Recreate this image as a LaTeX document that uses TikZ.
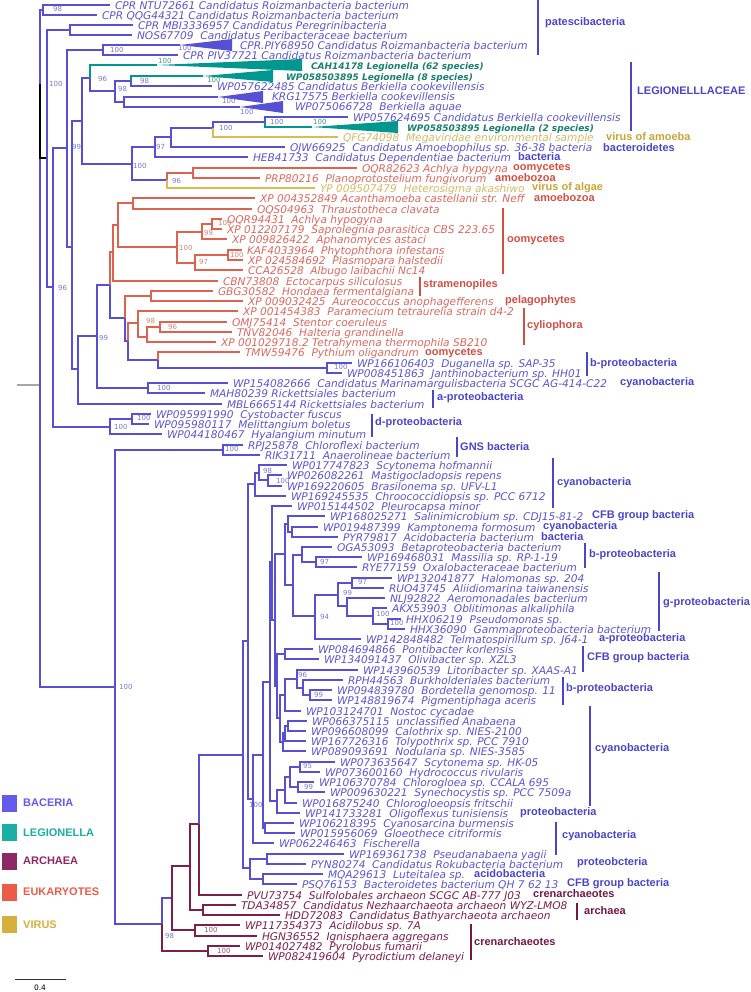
\documentclass[tikz,border=0pt]{standalone}
\usepackage{fontspec}
\setmainfont{DejaVu Sans}
\newfontfamily\labfont{Liberation Sans}
\usetikzlibrary{calc}
\definecolor{cB}{RGB}{88,80,210}
\definecolor{cBt}{RGB}{92,86,205}
\definecolor{cBs}{RGB}{120,120,205}
\definecolor{cR}{RGB}{222,98,78}
\definecolor{cRt}{RGB}{218,105,95}
\definecolor{cRs}{RGB}{215,130,120}
\definecolor{cG}{RGB}{222,186,84}
\definecolor{cGt}{RGB}{215,185,100}
\definecolor{cT}{RGB}{0,152,142}
\definecolor{cTt}{RGB}{25,128,110}
\definecolor{cTs}{RGB}{70,150,140}
\definecolor{cM}{RGB}{125,30,78}
\definecolor{cMs}{RGB}{150,85,115}
\definecolor{gB}{RGB}{75,70,200}
\definecolor{gR}{RGB}{210,80,65}
\definecolor{gG}{RGB}{200,165,55}
\definecolor{gM}{RGB}{115,25,70}
\definecolor{qB}{RGB}{100,90,235}
\definecolor{qT}{RGB}{25,175,165}
\definecolor{qM}{RGB}{140,40,100}
\definecolor{qR}{RGB}{235,92,72}
\definecolor{qG}{RGB}{215,175,60}
\tikzset{
  br/.style={line width=1.3pt},
  lf/.style={anchor=base west, inner sep=0pt, outer sep=0pt, font=\fontsize{10.6}{12}\selectfont\itshape},
  lfb/.style={anchor=base west, inner sep=0pt, outer sep=0pt, font=\fontsize{9}{11}\selectfont\bfseries\itshape},
  bsl/.style={anchor=west, inner sep=0pt, font=\fontsize{7}{8}\selectfont},
  grl/.style={anchor=west, inner sep=0pt, font=\labfont\bfseries\fontsize{11}{13}\selectfont},
  brk/.style={line width=1.3pt},
}
\newcounter{bsc}
\newcounter{grc}
\newcommand\TLf[5]{\node[lf,text=#5] (#1) at (#2,{#3+4.1}) {#4};}
\newcommand\TLb[5]{\node[lfb,text=#5] (#1) at (#2,{#3+4.1}) {#4};}
\newcommand\TEd[3]{\draw[br,draw=#3] (#1) |- ([xshift=-5pt,yshift=4.1pt]#2.base west);}
\newcommand\TEi[3]{\draw[br,draw=#3] (#1) |- (#2);}
\newcommand\TBs[4]{\stepcounter{bsc}\node[bsl,text=#4] (bs\thebsc) at (#2,#3) {#1};}
\newcommand\TBr[4]{\draw[brk,draw=#4] (#1,#2) -- (#1,#3);}
\newcommand\TGl[4]{\stepcounter{grc}\node[grl,text=#4] (gl\thegrc) at (#1,#2) {#3};}
\begin{document}
\begin{tikzpicture}[x=1pt,y=-1pt]
\useasboundingbox (0,0) rectangle (750,992);
\fill[white] (0,0) rectangle (750,992);
% ---------- internal nodes ----------
\coordinate (R) at (40,385); \coordinate (rs) at (17,385);
\coordinate (A) at (40,84); \coordinate (N1) at (43,10); \coordinate (B) at (47,158);
\coordinate (N2) at (70,30); \coordinate (C) at (53,287); \coordinate (D) at (67,148);
\coordinate (N5) at (103,50); \coordinate (E) at (72,247); \coordinate (L0) at (82,121);
\coordinate (NL) at (90,78); \coordinate (T2a) at (157,65); \coordinate (K) at (115,91);
\coordinate (K1) at (131,81); \coordinate (T3a) at (203,76); \coordinate (K2) at (124,102);
\coordinate (T4a) at (218,97); \coordinate (T5a) at (240,107); \coordinate (T1a) at (180,45);
\coordinate (M0) at (132,164); \coordinate (M1) at (155,147); \coordinate (M2) at (171,137);
\coordinate (M3) at (213,128); \coordinate (M4) at (265,122); \coordinate (T6a) at (312,127);
\coordinate (M5) at (167,180); \coordinate (M6) at (193,173);
\coordinate (F) at (78,369); \coordinate (G) at (97,336); \coordinate (H) at (110,285);
\coordinate (P8) at (113,252); \coordinate (P2) at (118,225); \coordinate (P1) at (133,203);
\coordinate (P3) at (177,247); \coordinate (P4) at (202,232); \coordinate (P6) at (212,224);
\coordinate (P5) at (195,263); \coordinate (P7) at (228,255); \coordinate (P13) at (125,318);
\coordinate (P9) at (151,296); \coordinate (P14) at (128,341); \coordinate (P12) at (138,323);
\coordinate (P11) at (147,337); \coordinate (P10) at (160,327); \coordinate (Q1) at (158,360);
\coordinate (Q2) at (327,368); \coordinate (Q3) at (148,388);
\coordinate (DP) at (110,427); \coordinate (DP2) at (132,419);
\coordinate (Z) at (115,687); \coordinate (GNS) at (223,450);
\coordinate (Y1) at (162,924); \coordinate (Y2) at (172,898); \coordinate (Y3) at (190,866);
\coordinate (Y4) at (199,824); \coordinate (Y5) at (203,910); \coordinate (Y6) at (195,930);
\coordinate (Y7) at (208,951);
\coordinate (W0) at (243,755); \coordinate (W1) at (248,641); \coordinate (W2) at (250,868);
\coordinate (W2a) at (267,859); \coordinate (W2b) at (263,879);
\coordinate (V3) at (255,484); \coordinate (V2) at (259,473); \coordinate (V1) at (268,480);
\coordinate (Wb) at (253,799); \coordinate (Wc) at (263,755); \coordinate (Xa) at (270,682);
\coordinate (X1) at (272,562); \coordinate (X2) at (275,620); \coordinate (X3) at (277,686);
\coordinate (R2) at (285,554); \coordinate (R1) at (293,585); \coordinate (S1) at (288,524);
\coordinate (S2) at (292,532); \coordinate (S3) at (302,555); \coordinate (S4) at (316,562);
\coordinate (S5) at (315,616); \coordinate (S6) at (338,595); \coordinate (S7) at (352,583);
\coordinate (S8) at (347,606); \coordinate (S9) at (373,616); \coordinate (S10) at (388,624);
\coordinate (CF) at (285,654); \coordinate (U9) at (280,718); \coordinate (U8) at (285,695);
\coordinate (U3) at (297,679); \coordinate (U2) at (303,688); \coordinate (U1) at (310,695);
\coordinate (U6) at (283,742); \coordinate (U5) at (285,733); \coordinate (U4) at (288,726);
\coordinate (Te) at (277,801); \coordinate (Td) at (285,790); \coordinate (Tc) at (290,777);
\coordinate (Ta) at (300,767); \coordinate (Tb) at (298,787); \coordinate (Tf) at (265,828);
% ---------- leaves ----------
\TLf{l1}{115}{5}{CPR NTU72661 Candidatus Roizmanbacteria bacterium}{cBt}
\TLf{l2}{102}{15}{CPR QQG44321 Candidatus Roizmanbacteria bacterium}{cBt}
\TLf{l3}{138}{25}{CPR MBI3336957 Candidatus Peregrinibacteria}{cBt}
\TLf{l4}{137}{35}{NOS67709~~Candidatus Peribacteraceae bacterium}{cBt}
\TLf{l5}{240}{45}{CPR.PIY68950 Candidatus Roizmanbacteria bacterium}{cBt}
\TLf{l6}{183}{55}{CPR PIV37721 Candidatus Roizmanbacteria bacterium}{cBt}
\TLb{l7}{311}{65}{CAH14178 Legionella (62 species)}{cTt}
\TLb{l8}{286}{76}{WP058503895 Legionella (8 species)}{cTt}
\TLf{l9}{217}{86}{WP057622485 Candidatus Berkiella cookevillensis}{cBt}
\TLf{l10}{272}{96}{KRG17575 Berkiella cookevillensis}{cBt}
\TLf{l11}{295}{106}{WP075066728~~Berkiella aquae}{cBt}
\TLf{l12}{353}{117}{WP057624695 Candidatus Berkiella cookevillensis}{cBt}
\TLb{l13}{407}{127}{WP058503895 Legionella (2 species)}{cTt}
\TLf{l14}{343}{137}{QFG74098~~Megaviridae environmental sample}{cGt}
\TLf{l15}{290}{147}{OJW66925~~Candidatus Amoebophilus sp. 36-38 bacteria}{cBt}
\TLf{l16}{253}{157}{HEB41733~~Candidatus Dependentiae bacterium}{cBt}
\TLf{l17}{362}{168}{OQR82623 Achlya hypgyna}{cRt}
\TLf{l18}{265}{178}{PRP80216~~Planoprotostelium fungivorum}{cRt}
\TLf{l19}{320}{188}{YP 009507479~~Heterosigma akashiwo}{cGt}
\TLf{l20}{260}{198}{XP 004352849 Acanthamoeba castellanii str. Neff}{cRt}
\TLf{l21}{257}{209}{OQS04963~~Thraustotheca clavata}{cRt}
\TLf{l22}{227}{219}{OQR94431~~Achlya hypogyna}{cRt}
\TLf{l23}{227}{229}{XP 012207179~~Saprolegnia parasitica CBS 223.65}{cRt}
\TLf{l24}{232}{239}{XP 009826422~~Aphanomyces astaci}{cRt}
\TLf{l25}{247}{250}{KAF4033964~~Phytophthora infestans}{cRt}
\TLf{l26}{248}{260}{XP 024584692~~Plasmopara halstedii}{cRt}
\TLf{l27}{248}{270}{CCA26528~~Albugo laibachii Nc14}{cRt}
\TLf{l28}{223}{281}{CBN73808~~Ectocarpus siliculosus}{cRt}
\TLf{l29}{218}{291}{GBG30582~~Hondaea fermentalgiana}{cRt}
\TLf{l30}{248}{301}{XP 009032425~~Aureococcus anophagefferens}{cRt}
\TLf{l31}{243}{311}{XP 001454383~~Paramecium tetraurelia strain d4-2}{cRt}
\TLf{l32}{232}{322}{OMJ75414~~Stentor coeruleus}{cRt}
\TLf{l33}{237}{332}{TNV82046~~Halteria grandinella}{cRt}
\TLf{l34}{221}{342}{XP 001029718.2 Tetrahymena thermophila SB210}{cRt}
\TLf{l35}{245}{352}{TMW59476~~Pythium oligandrum}{cRt}
\TLf{l36}{357}{363}{WP166106403~~Duganella sp. SAP-35}{cBt}
\TLf{l37}{347}{373}{WP008451863~~Janthinobacterium sp. HH01}{cBt}
\TLf{l38}{233}{383}{WP154082666~~Candidatus Marinamargulisbacteria SCGC AG-414-C22}{cBt}
\TLf{l39}{210}{393}{MAH80239 Rickettsiales bacterium}{cBt}
\TLf{l40}{227}{404}{MBL6665144 Rickettsiales bacterium}{cBt}
\TLf{l41}{156}{414}{WP095991990~~Cystobacter fuscus}{cBt}
\TLf{l42}{154}{424}{WP095980117~~Melittangium boletus}{cBt}
\TLf{l43}{167}{434}{WP044180467~~Hyalangium minutum}{cBt}
\TLf{l44}{248}{445}{RPJ25878~~Chloroflexi bacterium}{cBt}
\TLf{l45}{265}{455}{RIK31711~~Anaerolineae bacterium}{cBt}
\TLf{l46}{292}{465}{WP017747823~~Scytonema hofmannii}{cBt}
\TLf{l47}{287}{475}{WP026082261~~Mastigocladopsis repens}{cBt}
\TLf{l48}{287}{486}{WP169220605~~Brasilonema sp. UFV-L1}{cBt}
\TLf{l49}{291}{496}{WP169245535~~Chroococcidiopsis sp. PCC 6712}{cBt}
\TLf{l50}{297}{506}{WP015144502~~Pleurocapsa minor}{cBt}
\TLf{l51}{330}{516}{WP168025271~~Salinimicrobium sp. CDJ15-81-2}{cBt}
\TLf{l52}{323}{527}{WP019487399~~Kamptonema formosum}{cBt}
\TLf{l53}{343}{537}{PYR79817~~Acidobacteria bacterium}{cBt}
\TLf{l54}{337}{547}{OGA53093~~Betaproteobacteria bacterium}{cBt}
\TLf{l55}{367}{557}{WP169468031~~Massilia sp. RP-1-19}{cBt}
\TLf{l56}{362}{567}{RYE77159~~Oxalobacteraceae bacterium}{cBt}
\TLf{l57}{397}{578}{WP132041877~~Halomonas sp. 204}{cBt}
\TLf{l58}{389}{588}{RUO43745~~Aliidiomarina taiwanensis}{cBt}
\TLf{l59}{390}{598}{NLJ92822~~Aeromonadales bacterium}{cBt}
\TLf{l60}{392}{608}{AKX53903~~Oblitimonas alkaliphila}{cBt}
\TLf{l61}{406}{619}{HHX06219~~Pseudomonas sp.}{cBt}
\TLf{l62}{410}{629}{HHX36090~~Gammaproteobacteria bacterium}{cBt}
\TLf{l63}{366}{639}{WP142848482~~Telmatospirillum sp. J64-1}{cBt}
\TLf{l64}{318}{649}{WP084694866~~Pontibacter korlensis}{cBt}
\TLf{l65}{324}{659}{WP134091437~~Olivibacter sp. XZL3}{cBt}
\TLf{l66}{363}{670}{WP143960539~~Litoribacter sp. XAAS-A1}{cBt}
\TLf{l67}{348}{680}{RPH44563~~Burkholderiales bacterium}{cBt}
\TLf{l68}{337}{690}{WP094839780~~Bordetella genomosp. 11}{cBt}
\TLf{l69}{337}{700}{WP148819674~~Pigmentiphaga aceris}{cBt}
\TLf{l70}{306}{711}{WP103124701~~Nostoc cycadae}{cBt}
\TLf{l71}{312}{721}{WP066375115~~unclassified Anabaena}{cBt}
\TLf{l72}{311}{731}{WP096608099~~Calothrix sp. NIES-2100}{cBt}
\TLf{l73}{311}{741}{WP167726316~~Tolypothrix sp. PCC 7910}{cBt}
\TLf{l74}{311}{751}{WP089093691~~Nodularia sp. NIES-3585}{cBt}
\TLf{l75}{340}{762}{WP073635647~~Scytonema sp. HK-05}{cBt}
\TLf{l76}{325}{772}{WP073600160~~Hydrococcus rivularis}{cBt}
\TLf{l77}{319}{782}{WP106370784~~Chlorogloea sp. CCALA 695}{cBt}
\TLf{l78}{330}{792}{WP009630221~~Synechocystis sp. PCC 7509a}{cBt}
\TLf{l79}{302}{803}{WP016875240~~Chlorogloeopsis fritschii}{cBt}
\TLf{l80}{305}{813}{WP141733281~~Oligoflexus tunisiensis}{cBt}
\TLf{l81}{299}{823}{WP106218395~~Cyanosarcina burmensis}{cBt}
\TLf{l82}{300}{833}{WP015956069~~Gloeothece citriformis}{cBt}
\TLf{l83}{279}{843}{WP062246463~~Fischerella}{cBt}
\TLf{l84}{349}{854}{WP169361738~~Pseudanabaena yagii}{cBt}
\TLf{l85}{311}{864}{PYN80274~~Candidatus Rokubacteria bacterium}{cBt}
\TLf{l86}{328}{874}{MQA29613~~Luteitalea sp.}{cBt}
\TLf{l87}{302}{884}{PSQ76153~~Bacteroidetes bacterium QH 7 62 13}{cBt}
\TLf{l88}{247}{895}{PVU73754~~Sulfolobales archaeon SCGC AB-777 J03}{cM}
\TLf{l89}{241}{905}{TDA34857~~Candidatus Nezhaarchaeota archaeon WYZ-LMO8}{cM}
\TLf{l90}{285}{915}{HDD72083~~Candidatus Bathyarchaeota archaeon}{cM}
\TLf{l91}{245}{925}{WP117354373~~Acidilobus sp. 7A}{cM}
\TLf{l92}{262}{936}{HGN36552~~Ignisphaera aggregans}{cM}
\TLf{l93}{245}{946}{WP014027482~~Pyrolobus fumarii}{cM}
\TLf{l94}{268}{956}{WP082419604~~Pyrodictium delaneyi}{cM}
% ---------- edges ----------
\draw[br,draw=gray!70] (rs) -- (R);
\TEi{R}{A}{cB} \TEi{R}{Z}{cB}
\TEi{A}{N1}{cB} \TEi{A}{B}{black}
\TEd{N1}{l1}{cB} \TEd{N1}{l2}{cB}
\TEi{B}{N2}{cB} \TEi{B}{C}{cB}
\TEd{N2}{l3}{cB} \TEd{N2}{l4}{cB}
\TEi{C}{D}{cB} \TEi{C}{DP}{cB}
\TEi{D}{N5}{cB} \TEi{D}{E}{cB}
\TEi{N5}{T1a}{cB} \TEd{N5}{l6}{cB}
\TEi{E}{L0}{cB} \TEi{E}{F}{cB}
\TEi{L0}{NL}{cB} \TEi{L0}{M0}{cB}
\TEi{NL}{T2a}{cT} \TEi{NL}{K}{cB}
\TEi{K}{K1}{cB} \TEi{K}{K2}{cB}
\TEi{K1}{T3a}{cT} \TEd{K1}{l9}{cB}
\TEi{K2}{T4a}{cB} \TEi{K2}{T5a}{cB}
\TEi{M0}{M1}{cB} \TEi{M0}{M5}{cB}
\TEi{M1}{M2}{cB} \TEd{M1}{l16}{cB}
\TEi{M2}{M3}{cB} \TEd{M2}{l15}{cB}
\TEi{M3}{M4}{cB} \TEd{M3}{l14}{cG}
\TEd{M4}{l12}{cB} \TEi{M4}{T6a}{cT}
\TEi{M5}{M6}{cR} \TEd{M5}{l19}{cG}
\TEd{M6}{l17}{cR} \TEd{M6}{l18}{cR}
\TEi{F}{G}{cB} \TEd{F}{l40}{cB}
\TEi{G}{H}{cB} \TEi{G}{Q3}{cB}
\TEi{H}{P8}{cR} \TEi{H}{P13}{cB}
\TEi{P8}{P2}{cR} \TEd{P8}{l28}{cR}
\TEi{P2}{P1}{cR} \TEi{P2}{P3}{cR}
\TEd{P1}{l20}{cR} \TEd{P1}{l21}{cR}
\TEi{P3}{P4}{cR} \TEi{P3}{P5}{cR}
\TEi{P4}{P6}{cR} \TEd{P4}{l24}{cR}
\TEd{P6}{l22}{cR} \TEd{P6}{l23}{cR}
\TEi{P5}{P7}{cR} \TEd{P5}{l27}{cR}
\TEd{P7}{l25}{cR} \TEd{P7}{l26}{cR}
\TEi{P13}{P9}{cR} \TEi{P13}{P14}{cB}
\TEd{P9}{l29}{cR} \TEd{P9}{l30}{cR}
\TEi{P14}{P12}{cR} \TEi{P14}{Q1}{cB}
\TEd{P12}{l31}{cR} \TEi{P12}{P11}{cR}
\TEi{P11}{P10}{cR} \TEd{P11}{l34}{cR}
\TEd{P10}{l32}{cR} \TEd{P10}{l33}{cR}
\TEd{Q1}{l35}{cR} \TEi{Q1}{Q2}{cB}
\TEd{Q2}{l36}{cB} \TEd{Q2}{l37}{cB}
\TEd{Q3}{l38}{cB} \TEd{Q3}{l39}{cB}
\TEi{DP}{DP2}{cB} \TEd{DP}{l43}{cB}
\TEd{DP2}{l41}{cB} \TEd{DP2}{l42}{cB}
\TEi{Z}{GNS}{cB} \TEi{Z}{Y1}{cB}
\TEd{GNS}{l44}{cB} \TEd{GNS}{l45}{cB}
\TEi{Y1}{Y2}{cB} \TEi{Y1}{Y7}{cM}
\TEi{Y2}{Y3}{cM} \TEi{Y2}{Y6}{cM}
\TEi{Y3}{Y4}{cM} \TEi{Y3}{Y5}{cM}
\TEi{Y4}{W0}{cB} \TEd{Y4}{l88}{cM}
\TEd{Y5}{l89}{cM} \TEd{Y5}{l90}{cM}
\TEd{Y6}{l91}{cM} \TEd{Y6}{l92}{cM}
\TEd{Y7}{l93}{cM} \TEd{Y7}{l94}{cM}
\TEi{W0}{W1}{cB} \TEi{W0}{W2}{cB}
\TEi{W2}{W2a}{cB} \TEi{W2}{W2b}{cB}
\TEd{W2a}{l84}{cB} \TEd{W2a}{l85}{cB}
\TEd{W2b}{l86}{cB} \TEd{W2b}{l87}{cB}
\TEi{W1}{V3}{cB} \TEi{W1}{Wb}{cB}
\TEi{V3}{V2}{cB} \TEd{V3}{l49}{cB}
\TEd{V2}{l46}{cB} \TEi{V2}{V1}{cB}
\TEd{V1}{l47}{cB} \TEd{V1}{l48}{cB}
\TEi{Wb}{Wc}{cB} \TEd{Wb}{l83}{cB}
\TEi{Wc}{Xa}{cB} \TEi{Wc}{Tf}{cB}
\TEi{Xa}{X1}{cB} \TEi{Xa}{Te}{cB}
\TEd{X1}{l50}{cB} \TEi{X1}{X2}{cB}
\TEi{X2}{R2}{cB} \TEi{X2}{X3}{cB}
\TEi{R2}{S1}{cB} \TEi{R2}{R1}{cB}
\TEi{R1}{S3}{cB} \TEi{R1}{S5}{cB}
\TEd{S1}{l51}{cB} \TEi{S1}{S2}{cB}
\TEd{S2}{l52}{cB} \TEd{S2}{l53}{cB}
\TEd{S3}{l54}{cB} \TEi{S3}{S4}{cB}
\TEd{S4}{l55}{cB} \TEd{S4}{l56}{cB}
\TEi{S5}{S6}{cB} \TEd{S5}{l63}{cB}
\TEi{S6}{S7}{cB} \TEi{S6}{S8}{cB}
\TEd{S7}{l57}{cB} \TEd{S7}{l58}{cB}
\TEd{S8}{l59}{cB} \TEi{S8}{S9}{cB}
\TEd{S9}{l60}{cB} \TEi{S9}{S10}{cB}
\TEd{S10}{l61}{cB} \TEd{S10}{l62}{cB}
\TEi{X3}{CF}{cB} \TEi{X3}{U9}{cB}
\TEd{CF}{l64}{cB} \TEd{CF}{l65}{cB}
\TEi{U9}{U8}{cB} \TEi{U9}{U6}{cB}
\TEi{U8}{U3}{cB} \TEd{U8}{l70}{cB}
\TEd{U3}{l66}{cB} \TEi{U3}{U2}{cB}
\TEd{U2}{l67}{cB} \TEi{U2}{U1}{cB}
\TEd{U1}{l68}{cB} \TEd{U1}{l69}{cB}
\TEi{U6}{U5}{cB} \TEd{U6}{l74}{cB}
\TEi{U5}{U4}{cB} \TEd{U5}{l73}{cB}
\TEd{U4}{l71}{cB} \TEd{U4}{l72}{cB}
\TEi{Te}{Td}{cB} \TEd{Te}{l80}{cB}
\TEi{Td}{Tc}{cB} \TEd{Td}{l79}{cB}
\TEi{Tc}{Ta}{cB} \TEi{Tc}{Tb}{cB}
\TEd{Ta}{l75}{cB} \TEd{Ta}{l76}{cB}
\TEd{Tb}{l77}{cB} \TEd{Tb}{l78}{cB}
\TEd{Tf}{l81}{cB} \TEd{Tf}{l82}{cB}
% ---------- collapsed clades ----------
\fill[cB] (T1a) -- (232,39) -- (232,51) -- cycle;
\fill[cT] (T2a) -- (302,59) -- (302,71) -- cycle;
\fill[cT] (T3a) -- (273,70) -- (273,82) -- cycle;
\fill[cB] (T4a) -- (263,91) -- (263,103) -- cycle;
\fill[cB] (T5a) -- (283,101) -- (283,113) -- cycle;
\fill[cT] (T6a) -- (398,121) -- (398,133) -- cycle;
% ---------- support values ----------
\TBs{98}{53}{9}{cBs} \TBs{100}{49}{84}{cBs} \TBs{100}{110}{50}{cBs}
\TBs{100}{178}{48}{cBs} \TBs{100}{158}{61}{cTs} \TBs{96}{98}{79}{cBs}
\TBs{98}{118}{89}{cBs} \TBs{98}{140}{81}{cBs} \TBs{100}{207}{80}{cTs}
\TBs{100}{222}{101}{cBs} \TBs{100}{240}{112}{cBs} \TBs{100}{270}{122}{cBs}
\TBs{100}{313}{122}{cTs} \TBs{100}{219}{128}{cBs} \TBs{97}{156}{147}{cBs}
\TBs{99}{72}{147}{cBs} \TBs{100}{133}{166}{cBs} \TBs{96}{172}{181}{cBs}
\TBs{100}{218}{223}{cRs} \TBs{99}{204}{233}{cRs} \TBs{100}{179}{248}{cRs}
\TBs{100}{230}{255}{cRs} \TBs{97}{199}{262}{cRs} \TBs{96}{58}{288}{cBs}
\TBs{98}{146}{321}{cRs} \TBs{96}{168}{327}{cRs} \TBs{99}{99}{338}{cBs}
\TBs{100}{334}{367}{cBs} \TBs{100}{157}{388}{cBs} \TBs{100}{137}{418}{cBs}
\TBs{100}{114}{427}{cBs} \TBs{100}{225}{449}{cBs} \TBs{98}{263}{471}{cBs}
\TBs{100}{276}{481}{cBs} \TBs{100}{119}{687}{cBs} \TBs{97}{320}{562}{cBs}
\TBs{97}{358}{582}{cBs} \TBs{99}{343}{593}{cBs} \TBs{94}{320}{617}{cBs}
\TBs{100}{376}{614}{cBs} \TBs{100}{390}{623}{cBs} \TBs{96}{298}{675}{cBs}
\TBs{99}{314}{695}{cBs} \TBs{95}{303}{766}{cBs} \TBs{99}{304}{787}{cBs}
\TBs{100}{249}{805}{cBs} \TBs{100}{204}{930}{cMs} \TBs{98}{165}{936}{cBs}
\TBs{100}{217}{951}{cMs}
% ---------- group brackets and labels ----------
\TBr{538}{0}{55}{gB} \TGl{545}{23}{patescibacteria}{gB}
\TBr{631}{62}{131}{gB} \TGl{637}{91}{LEGIONELLLACEAE}{gB}
\TGl{606}{137}{virus of amoeba}{gG}
\TGl{603}{148}{bacteroidetes}{gB}
\TGl{518}{157}{bacteria}{gB}
\TGl{513}{168}{oomycetes}{gR}
\TGl{495}{178}{amoebozoa}{gR}
\TGl{532}{188}{virus of algae}{gG}
\TGl{534}{198}{amoebozoa}{gR}
\TBr{503}{208}{274}{gR} \TGl{507}{240}{oomycetes}{gR}
\TBr{420}{277}{296}{gR} \TGl{423}{285}{stramenopiles}{gR}
\TGl{505}{301}{pelagophytes}{gR}
\TBr{524}{308}{345}{gR} \TGl{527}{326}{cyliophora}{gR}
\TGl{425}{353}{oomycetes}{gR}
\TBr{587}{352}{376}{gB} \TGl{590}{364}{b-proteobacteria}{gB}
\TGl{620}{383}{cyanobacteria}{gB}
\TBr{433}{390}{408}{gB} \TGl{437}{398}{a-proteobacteria}{gB}
\TBr{372}{414}{437}{gB} \TGl{375}{423}{d-proteobacteria}{gB}
\TBr{457}{437}{457}{gB} \TGl{460}{447}{GNS bacteria}{gB}
\TBr{553}{458}{508}{gB} \TGl{557}{483}{cyanobacteria}{gB}
\TGl{592}{516}{CFB group bacteria}{gB}
\TGl{543}{527}{cyanobacteria}{gB}
\TGl{541}{537}{bacteria}{gB}
\TBr{585}{543}{568}{gB} \TGl{589}{555}{b-proteobacteria}{gB}
\TBr{659}{572}{631}{gB} \TGl{663}{603}{g-proteobacteria}{gB}
\TGl{599}{639}{a-proteobacteria}{gB}
\TBr{583}{646}{672}{gB} \TGl{587}{658}{CFB group bacteria}{gB}
\TBr{563}{677}{705}{gB} \TGl{566}{689}{b-proteobacteria}{gB}
\TBr{590}{706}{806}{gB} \TGl{595}{749}{cyanobacteria}{gB}
\TGl{520}{813}{proteobacteria}{gB}
\TBr{556}{822}{855}{gB} \TGl{562}{836}{cyanobacteria}{gB}
\TGl{577}{863}{proteobcteria}{gB}
\TGl{474}{874}{acidobacteria}{gB}
\TGl{567}{884}{CFB group bacteria}{gB}
\TGl{533}{894}{crenarchaeotes}{gM}
\TBr{577}{903}{920}{gM} \TGl{584}{911}{archaea}{gM}
\TBr{471}{924}{960}{gM} \TGl{474}{942}{crenarchaeotes}{gM}
% ---------- legend ----------
\fill[qB] (2,795) rectangle (17,812); \node[grl,text=qB] (lg1) at (23,803) {BACERIA};
\fill[qT] (2,824) rectangle (17,841); \node[grl,text=qT] (lg2) at (23,833) {LEGIONELLA};
\fill[qM] (2,853) rectangle (17,870); \node[grl,text=qM] (lg3) at (23,861) {ARCHAEA};
\fill[qR] (2,884) rectangle (17,901); \node[grl,text=qR] (lg4) at (23,892) {EUKARYOTES};
\fill[qG] (2,916) rectangle (17,933); \node[grl,text=qG] (lg5) at (23,925) {VIRUS};
% ---------- scale bar ----------
\coordinate (sb1) at (15,979); \coordinate (sb2) at (66,979);
\draw[line width=0.8pt,draw=black!80] (sb1) -- (sb2);
\node[font=\fontsize{7.5}{8}\selectfont, inner sep=0pt] (sbl) at (40,988) {0.4};
\end{tikzpicture}
\end{document}
